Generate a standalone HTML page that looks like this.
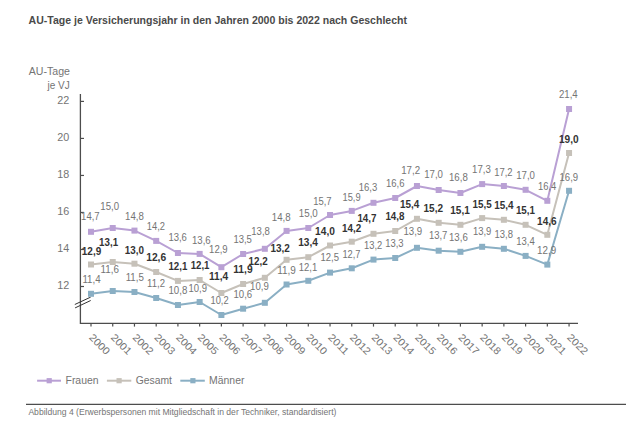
<!DOCTYPE html>
<html><head><meta charset="utf-8"><title>AU-Tage</title>
<style>html,body{margin:0;padding:0;background:#fff;width:638px;height:431px;overflow:hidden;font-family:"Liberation Sans",sans-serif;}svg{display:block;}</style>
</head><body>
<svg width="638" height="431" viewBox="0 0 638 431" font-family="Liberation Sans, sans-serif"><rect width="638" height="431" fill="#ffffff"/><text x="28.6" y="23.6" font-size="11" font-weight="bold" fill="#4a4a4a" textLength="378.4" lengthAdjust="spacingAndGlyphs">AU-Tage je Versicherungsjahr in den Jahren 2000 bis 2022 nach Geschlecht</text><text x="28.8" y="75" font-size="10" fill="#747474" textLength="41.2" lengthAdjust="spacingAndGlyphs">AU-Tage</text><text x="69.8" y="88.8" font-size="10" fill="#747474" text-anchor="end">je VJ</text><text x="57.3" y="103.80" font-size="10.2" fill="#747474" textLength="12" lengthAdjust="spacingAndGlyphs">22</text><line x1="80.4" y1="101.40" x2="84" y2="101.40" stroke="#4d4d4d" stroke-width="1.2"/><text x="57.3" y="140.82" font-size="10.2" fill="#747474" textLength="12" lengthAdjust="spacingAndGlyphs">20</text><line x1="80.4" y1="138.42" x2="84" y2="138.42" stroke="#4d4d4d" stroke-width="1.2"/><text x="57.3" y="177.84" font-size="10.2" fill="#747474" textLength="12" lengthAdjust="spacingAndGlyphs">18</text><line x1="80.4" y1="175.44" x2="84" y2="175.44" stroke="#4d4d4d" stroke-width="1.2"/><text x="57.3" y="214.86" font-size="10.2" fill="#747474" textLength="12" lengthAdjust="spacingAndGlyphs">16</text><line x1="80.4" y1="212.46" x2="84" y2="212.46" stroke="#4d4d4d" stroke-width="1.2"/><text x="57.3" y="251.88" font-size="10.2" fill="#747474" textLength="12" lengthAdjust="spacingAndGlyphs">14</text><line x1="80.4" y1="249.48" x2="84" y2="249.48" stroke="#4d4d4d" stroke-width="1.2"/><text x="57.3" y="288.90" font-size="10.2" fill="#747474" textLength="12" lengthAdjust="spacingAndGlyphs">12</text><line x1="80.4" y1="286.50" x2="84" y2="286.50" stroke="#4d4d4d" stroke-width="1.2"/><path d="M80.4 94 V323.3 H578" fill="none" stroke="#4d4d4d" stroke-width="1.3"/><line x1="91.00" y1="323.3" x2="91.00" y2="326.6" stroke="#4d4d4d" stroke-width="1.2"/><line x1="112.73" y1="323.3" x2="112.73" y2="326.6" stroke="#4d4d4d" stroke-width="1.2"/><line x1="134.46" y1="323.3" x2="134.46" y2="326.6" stroke="#4d4d4d" stroke-width="1.2"/><line x1="156.19" y1="323.3" x2="156.19" y2="326.6" stroke="#4d4d4d" stroke-width="1.2"/><line x1="177.92" y1="323.3" x2="177.92" y2="326.6" stroke="#4d4d4d" stroke-width="1.2"/><line x1="199.65" y1="323.3" x2="199.65" y2="326.6" stroke="#4d4d4d" stroke-width="1.2"/><line x1="221.38" y1="323.3" x2="221.38" y2="326.6" stroke="#4d4d4d" stroke-width="1.2"/><line x1="243.11" y1="323.3" x2="243.11" y2="326.6" stroke="#4d4d4d" stroke-width="1.2"/><line x1="264.84" y1="323.3" x2="264.84" y2="326.6" stroke="#4d4d4d" stroke-width="1.2"/><line x1="286.57" y1="323.3" x2="286.57" y2="326.6" stroke="#4d4d4d" stroke-width="1.2"/><line x1="308.30" y1="323.3" x2="308.30" y2="326.6" stroke="#4d4d4d" stroke-width="1.2"/><line x1="330.03" y1="323.3" x2="330.03" y2="326.6" stroke="#4d4d4d" stroke-width="1.2"/><line x1="351.76" y1="323.3" x2="351.76" y2="326.6" stroke="#4d4d4d" stroke-width="1.2"/><line x1="373.49" y1="323.3" x2="373.49" y2="326.6" stroke="#4d4d4d" stroke-width="1.2"/><line x1="395.22" y1="323.3" x2="395.22" y2="326.6" stroke="#4d4d4d" stroke-width="1.2"/><line x1="416.95" y1="323.3" x2="416.95" y2="326.6" stroke="#4d4d4d" stroke-width="1.2"/><line x1="438.68" y1="323.3" x2="438.68" y2="326.6" stroke="#4d4d4d" stroke-width="1.2"/><line x1="460.41" y1="323.3" x2="460.41" y2="326.6" stroke="#4d4d4d" stroke-width="1.2"/><line x1="482.14" y1="323.3" x2="482.14" y2="326.6" stroke="#4d4d4d" stroke-width="1.2"/><line x1="503.87" y1="323.3" x2="503.87" y2="326.6" stroke="#4d4d4d" stroke-width="1.2"/><line x1="525.60" y1="323.3" x2="525.60" y2="326.6" stroke="#4d4d4d" stroke-width="1.2"/><line x1="547.33" y1="323.3" x2="547.33" y2="326.6" stroke="#4d4d4d" stroke-width="1.2"/><line x1="569.06" y1="323.3" x2="569.06" y2="326.6" stroke="#4d4d4d" stroke-width="1.2"/><line x1="74.8" y1="304.5" x2="90.7" y2="297.1" stroke="#333" stroke-width="1"/><line x1="75.1" y1="307.9" x2="90.7" y2="300.5" stroke="#333" stroke-width="1"/><polyline points="91.00,264.50 112.73,262.00 134.46,263.70 156.19,272.00 177.92,280.90 199.65,280.00 221.38,293.00 243.11,284.00 264.84,277.80 286.57,259.80 308.30,257.20 330.03,245.50 351.76,241.70 373.49,233.80 395.22,231.00 416.95,218.80 438.68,222.80 460.41,224.80 482.14,218.10 503.87,219.80 525.60,224.80 547.33,234.80 569.06,153.00" fill="none" stroke="#c6c1b9" stroke-width="2" stroke-linejoin="round"/><polyline points="91.00,293.80 112.73,291.00 134.46,292.00 156.19,298.00 177.92,305.00 199.65,302.00 221.38,315.00 243.11,308.70 264.84,302.80 286.57,284.50 308.30,280.80 330.03,272.60 351.76,268.30 373.49,259.60 395.22,258.00 416.95,247.80 438.68,250.70 460.41,251.80 482.14,246.80 503.87,248.80 525.60,255.90 547.33,264.60 569.06,190.80" fill="none" stroke="#8aafc4" stroke-width="2" stroke-linejoin="round"/><polyline points="91.00,231.80 112.73,228.00 134.46,230.60 156.19,240.90 177.92,253.00 199.65,253.90 221.38,267.20 243.11,254.00 264.84,248.80 286.57,230.90 308.30,228.00 330.03,215.00 351.76,210.90 373.49,202.80 395.22,198.00 416.95,186.00 438.68,190.00 460.41,193.00 482.14,184.10 503.87,186.00 525.60,189.80 547.33,200.80 569.06,109.00" fill="none" stroke="#b9a0d4" stroke-width="2" stroke-linejoin="round"/><rect x="88.00" y="261.50" width="6" height="6" fill="#c6c1b9"/><rect x="109.73" y="259.00" width="6" height="6" fill="#c6c1b9"/><rect x="131.46" y="260.70" width="6" height="6" fill="#c6c1b9"/><rect x="153.19" y="269.00" width="6" height="6" fill="#c6c1b9"/><rect x="174.92" y="277.90" width="6" height="6" fill="#c6c1b9"/><rect x="196.65" y="277.00" width="6" height="6" fill="#c6c1b9"/><rect x="218.38" y="290.00" width="6" height="6" fill="#c6c1b9"/><rect x="240.11" y="281.00" width="6" height="6" fill="#c6c1b9"/><rect x="261.84" y="274.80" width="6" height="6" fill="#c6c1b9"/><rect x="283.57" y="256.80" width="6" height="6" fill="#c6c1b9"/><rect x="305.30" y="254.20" width="6" height="6" fill="#c6c1b9"/><rect x="327.03" y="242.50" width="6" height="6" fill="#c6c1b9"/><rect x="348.76" y="238.70" width="6" height="6" fill="#c6c1b9"/><rect x="370.49" y="230.80" width="6" height="6" fill="#c6c1b9"/><rect x="392.22" y="228.00" width="6" height="6" fill="#c6c1b9"/><rect x="413.95" y="215.80" width="6" height="6" fill="#c6c1b9"/><rect x="435.68" y="219.80" width="6" height="6" fill="#c6c1b9"/><rect x="457.41" y="221.80" width="6" height="6" fill="#c6c1b9"/><rect x="479.14" y="215.10" width="6" height="6" fill="#c6c1b9"/><rect x="500.87" y="216.80" width="6" height="6" fill="#c6c1b9"/><rect x="522.60" y="221.80" width="6" height="6" fill="#c6c1b9"/><rect x="544.33" y="231.80" width="6" height="6" fill="#c6c1b9"/><rect x="566.06" y="150.00" width="6" height="6" fill="#c6c1b9"/><rect x="88.00" y="290.80" width="6" height="6" fill="#8aafc4"/><rect x="109.73" y="288.00" width="6" height="6" fill="#8aafc4"/><rect x="131.46" y="289.00" width="6" height="6" fill="#8aafc4"/><rect x="153.19" y="295.00" width="6" height="6" fill="#8aafc4"/><rect x="174.92" y="302.00" width="6" height="6" fill="#8aafc4"/><rect x="196.65" y="299.00" width="6" height="6" fill="#8aafc4"/><rect x="218.38" y="312.00" width="6" height="6" fill="#8aafc4"/><rect x="240.11" y="305.70" width="6" height="6" fill="#8aafc4"/><rect x="261.84" y="299.80" width="6" height="6" fill="#8aafc4"/><rect x="283.57" y="281.50" width="6" height="6" fill="#8aafc4"/><rect x="305.30" y="277.80" width="6" height="6" fill="#8aafc4"/><rect x="327.03" y="269.60" width="6" height="6" fill="#8aafc4"/><rect x="348.76" y="265.30" width="6" height="6" fill="#8aafc4"/><rect x="370.49" y="256.60" width="6" height="6" fill="#8aafc4"/><rect x="392.22" y="255.00" width="6" height="6" fill="#8aafc4"/><rect x="413.95" y="244.80" width="6" height="6" fill="#8aafc4"/><rect x="435.68" y="247.70" width="6" height="6" fill="#8aafc4"/><rect x="457.41" y="248.80" width="6" height="6" fill="#8aafc4"/><rect x="479.14" y="243.80" width="6" height="6" fill="#8aafc4"/><rect x="500.87" y="245.80" width="6" height="6" fill="#8aafc4"/><rect x="522.60" y="252.90" width="6" height="6" fill="#8aafc4"/><rect x="544.33" y="261.60" width="6" height="6" fill="#8aafc4"/><rect x="566.06" y="187.80" width="6" height="6" fill="#8aafc4"/><rect x="88.00" y="228.80" width="6" height="6" fill="#b9a0d4"/><rect x="109.73" y="225.00" width="6" height="6" fill="#b9a0d4"/><rect x="131.46" y="227.60" width="6" height="6" fill="#b9a0d4"/><rect x="153.19" y="237.90" width="6" height="6" fill="#b9a0d4"/><rect x="174.92" y="250.00" width="6" height="6" fill="#b9a0d4"/><rect x="196.65" y="250.90" width="6" height="6" fill="#b9a0d4"/><rect x="218.38" y="264.20" width="6" height="6" fill="#b9a0d4"/><rect x="240.11" y="251.00" width="6" height="6" fill="#b9a0d4"/><rect x="261.84" y="245.80" width="6" height="6" fill="#b9a0d4"/><rect x="283.57" y="227.90" width="6" height="6" fill="#b9a0d4"/><rect x="305.30" y="225.00" width="6" height="6" fill="#b9a0d4"/><rect x="327.03" y="212.00" width="6" height="6" fill="#b9a0d4"/><rect x="348.76" y="207.90" width="6" height="6" fill="#b9a0d4"/><rect x="370.49" y="199.80" width="6" height="6" fill="#b9a0d4"/><rect x="392.22" y="195.00" width="6" height="6" fill="#b9a0d4"/><rect x="413.95" y="183.00" width="6" height="6" fill="#b9a0d4"/><rect x="435.68" y="187.00" width="6" height="6" fill="#b9a0d4"/><rect x="457.41" y="190.00" width="6" height="6" fill="#b9a0d4"/><rect x="479.14" y="181.10" width="6" height="6" fill="#b9a0d4"/><rect x="500.87" y="183.00" width="6" height="6" fill="#b9a0d4"/><rect x="522.60" y="186.80" width="6" height="6" fill="#b9a0d4"/><rect x="544.33" y="197.80" width="6" height="6" fill="#b9a0d4"/><rect x="566.06" y="106.00" width="6" height="6" fill="#b9a0d4"/><g font-size="9.6"><text x="81.10" y="220.20" textLength="18.50" lengthAdjust="spacingAndGlyphs" fill="#747474" font-size="10.05">14,7</text><text x="100.30" y="210.20" textLength="18.70" lengthAdjust="spacingAndGlyphs" fill="#747474" font-size="10.05">15,0</text><text x="125.10" y="220.20" textLength="18.80" lengthAdjust="spacingAndGlyphs" fill="#747474" font-size="10.05">14,8</text><text x="146.80" y="230.20" textLength="18.20" lengthAdjust="spacingAndGlyphs" fill="#747474" font-size="10.05">14,2</text><text x="168.40" y="241.40" textLength="18.50" lengthAdjust="spacingAndGlyphs" fill="#747474" font-size="10.05">13,6</text><text x="192.00" y="244.00" textLength="18.70" lengthAdjust="spacingAndGlyphs" fill="#747474" font-size="10.05">13,6</text><text x="209.10" y="253.20" textLength="18.60" lengthAdjust="spacingAndGlyphs" fill="#747474" font-size="10.05">12,9</text><text x="233.40" y="243.30" textLength="18.50" lengthAdjust="spacingAndGlyphs" fill="#747474" font-size="10.05">13,5</text><text x="251.30" y="235.20" textLength="18.60" lengthAdjust="spacingAndGlyphs" fill="#747474" font-size="10.05">13,8</text><text x="271.80" y="220.50" textLength="18.80" lengthAdjust="spacingAndGlyphs" fill="#747474" font-size="10.05">14,8</text><text x="298.80" y="217.40" textLength="19.00" lengthAdjust="spacingAndGlyphs" fill="#747474" font-size="10.05">15,0</text><text x="313.20" y="205.40" textLength="18.40" lengthAdjust="spacingAndGlyphs" fill="#747474" font-size="10.05">15,7</text><text x="342.50" y="200.50" textLength="18.10" lengthAdjust="spacingAndGlyphs" fill="#747474" font-size="10.05">15,9</text><text x="358.80" y="191.10" textLength="18.50" lengthAdjust="spacingAndGlyphs" fill="#747474" font-size="10.05">16,3</text><text x="386.00" y="187.30" textLength="18.50" lengthAdjust="spacingAndGlyphs" fill="#747474" font-size="10.05">16,6</text><text x="401.20" y="174.40" textLength="18.90" lengthAdjust="spacingAndGlyphs" fill="#747474" font-size="10.05">17,2</text><text x="424.20" y="178.30" textLength="18.80" lengthAdjust="spacingAndGlyphs" fill="#747474" font-size="10.05">17,0</text><text x="449.00" y="181.40" textLength="18.80" lengthAdjust="spacingAndGlyphs" fill="#747474" font-size="10.05">16,8</text><text x="472.10" y="173.40" textLength="18.80" lengthAdjust="spacingAndGlyphs" fill="#747474" font-size="10.05">17,3</text><text x="494.20" y="175.50" textLength="18.40" lengthAdjust="spacingAndGlyphs" fill="#747474" font-size="10.05">17,2</text><text x="516.20" y="178.50" textLength="18.80" lengthAdjust="spacingAndGlyphs" fill="#747474" font-size="10.05">17,0</text><text x="538.00" y="189.50" textLength="18.30" lengthAdjust="spacingAndGlyphs" fill="#747474" font-size="10.05">16,4</text><text x="558.90" y="98.40" textLength="18.80" lengthAdjust="spacingAndGlyphs" fill="#747474" font-size="10.05">21,4</text><text x="82.40" y="283.00" textLength="18.20" lengthAdjust="spacingAndGlyphs" fill="#747474" font-size="10.05">11,4</text><text x="100.60" y="273.00" textLength="18.40" lengthAdjust="spacingAndGlyphs" fill="#747474" font-size="10.05">11,6</text><text x="125.70" y="281.20" textLength="18.20" lengthAdjust="spacingAndGlyphs" fill="#747474" font-size="10.05">11,5</text><text x="147.10" y="287.10" textLength="17.90" lengthAdjust="spacingAndGlyphs" fill="#747474" font-size="10.05">11,2</text><text x="168.40" y="294.00" textLength="18.90" lengthAdjust="spacingAndGlyphs" fill="#747474" font-size="10.05">10,8</text><text x="188.50" y="292.40" textLength="18.50" lengthAdjust="spacingAndGlyphs" fill="#747474" font-size="10.05">10,9</text><text x="210.50" y="304.00" textLength="18.10" lengthAdjust="spacingAndGlyphs" fill="#747474" font-size="10.05">10,2</text><text x="233.50" y="297.90" textLength="18.70" lengthAdjust="spacingAndGlyphs" fill="#747474" font-size="10.05">10,6</text><text x="250.10" y="290.00" textLength="18.70" lengthAdjust="spacingAndGlyphs" fill="#747474" font-size="10.05">10,9</text><text x="277.20" y="274.30" textLength="18.70" lengthAdjust="spacingAndGlyphs" fill="#747474" font-size="10.05">11,9</text><text x="298.80" y="270.50" textLength="18.50" lengthAdjust="spacingAndGlyphs" fill="#747474" font-size="10.05">12,1</text><text x="320.50" y="261.30" textLength="18.50" lengthAdjust="spacingAndGlyphs" fill="#747474" font-size="10.05">12,5</text><text x="342.40" y="257.90" textLength="18.10" lengthAdjust="spacingAndGlyphs" fill="#747474" font-size="10.05">12,7</text><text x="364.00" y="249.20" textLength="18.20" lengthAdjust="spacingAndGlyphs" fill="#747474" font-size="10.05">13,2</text><text x="385.20" y="247.30" textLength="18.40" lengthAdjust="spacingAndGlyphs" fill="#747474" font-size="10.05">13,3</text><text x="403.40" y="235.40" textLength="18.80" lengthAdjust="spacingAndGlyphs" fill="#747474" font-size="10.05">13,9</text><text x="428.90" y="239.20" textLength="18.40" lengthAdjust="spacingAndGlyphs" fill="#747474" font-size="10.05">13,7</text><text x="449.00" y="241.10" textLength="18.80" lengthAdjust="spacingAndGlyphs" fill="#747474" font-size="10.05">13,6</text><text x="472.90" y="235.40" textLength="18.40" lengthAdjust="spacingAndGlyphs" fill="#747474" font-size="10.05">13,9</text><text x="494.60" y="237.90" textLength="18.40" lengthAdjust="spacingAndGlyphs" fill="#747474" font-size="10.05">13,8</text><text x="516.20" y="244.90" textLength="18.50" lengthAdjust="spacingAndGlyphs" fill="#747474" font-size="10.05">13,4</text><text x="537.10" y="254.10" textLength="19.10" lengthAdjust="spacingAndGlyphs" fill="#747474" font-size="10.05">12,9</text><text x="559.50" y="180.80" textLength="18.60" lengthAdjust="spacingAndGlyphs" fill="#747474" font-size="10.05">16,9</text><text x="81.80" y="255.40" textLength="19.40" lengthAdjust="spacingAndGlyphs" fill="#333333" font-weight="bold" font-size="10.5">12,9</text><text x="99.10" y="246.30" textLength="19.00" lengthAdjust="spacingAndGlyphs" fill="#333333" font-weight="bold" font-size="10.5">13,1</text><text x="124.70" y="253.80" textLength="19.20" lengthAdjust="spacingAndGlyphs" fill="#333333" font-weight="bold" font-size="10.5">13,0</text><text x="146.20" y="261.00" textLength="20.00" lengthAdjust="spacingAndGlyphs" fill="#333333" font-weight="bold" font-size="10.5">12,6</text><text x="168.40" y="270.40" textLength="18.90" lengthAdjust="spacingAndGlyphs" fill="#333333" font-weight="bold" font-size="10.5">12,1</text><text x="190.70" y="269.10" textLength="18.80" lengthAdjust="spacingAndGlyphs" fill="#333333" font-weight="bold" font-size="10.5">12,1</text><text x="208.90" y="279.60" textLength="19.30" lengthAdjust="spacingAndGlyphs" fill="#333333" font-weight="bold" font-size="10.5">11,4</text><text x="233.20" y="273.20" textLength="19.40" lengthAdjust="spacingAndGlyphs" fill="#333333" font-weight="bold" font-size="10.5">11,9</text><text x="248.50" y="264.70" textLength="19.10" lengthAdjust="spacingAndGlyphs" fill="#333333" font-weight="bold" font-size="10.5">12,2</text><text x="270.50" y="251.50" textLength="19.40" lengthAdjust="spacingAndGlyphs" fill="#333333" font-weight="bold" font-size="10.5">13,2</text><text x="298.20" y="246.40" textLength="19.70" lengthAdjust="spacingAndGlyphs" fill="#333333" font-weight="bold" font-size="10.5">13,4</text><text x="315.10" y="235.10" textLength="19.80" lengthAdjust="spacingAndGlyphs" fill="#333333" font-weight="bold" font-size="10.5">14,0</text><text x="342.10" y="232.40" textLength="19.10" lengthAdjust="spacingAndGlyphs" fill="#333333" font-weight="bold" font-size="10.5">14,2</text><text x="357.40" y="222.20" textLength="19.10" lengthAdjust="spacingAndGlyphs" fill="#333333" font-weight="bold" font-size="10.5">14,7</text><text x="385.40" y="220.10" textLength="19.10" lengthAdjust="spacingAndGlyphs" fill="#333333" font-weight="bold" font-size="10.5">14,8</text><text x="399.90" y="208.00" textLength="19.40" lengthAdjust="spacingAndGlyphs" fill="#333333" font-weight="bold" font-size="10.5">15,4</text><text x="423.50" y="211.60" textLength="19.50" lengthAdjust="spacingAndGlyphs" fill="#333333" font-weight="bold" font-size="10.5">15,2</text><text x="450.30" y="214.20" textLength="19.50" lengthAdjust="spacingAndGlyphs" fill="#333333" font-weight="bold" font-size="10.5">15,1</text><text x="472.50" y="207.50" textLength="19.10" lengthAdjust="spacingAndGlyphs" fill="#333333" font-weight="bold" font-size="10.5">15,5</text><text x="494.20" y="209.10" textLength="19.30" lengthAdjust="spacingAndGlyphs" fill="#333333" font-weight="bold" font-size="10.5">15,4</text><text x="515.90" y="214.20" textLength="19.10" lengthAdjust="spacingAndGlyphs" fill="#333333" font-weight="bold" font-size="10.5">15,1</text><text x="537.10" y="224.70" textLength="19.60" lengthAdjust="spacingAndGlyphs" fill="#333333" font-weight="bold" font-size="10.5">14,6</text><text x="558.90" y="143.00" textLength="19.70" lengthAdjust="spacingAndGlyphs" fill="#333333" font-weight="bold" font-size="10.5">19,0</text></g><text x="99.60" y="344.30" font-size="10.2" fill="#747474" text-anchor="middle" dominant-baseline="central" textLength="24.5" lengthAdjust="spacingAndGlyphs" transform="rotate(45 99.60 344.30)">2000</text><text x="121.33" y="344.30" font-size="10.2" fill="#747474" text-anchor="middle" dominant-baseline="central" textLength="24.5" lengthAdjust="spacingAndGlyphs" transform="rotate(45 121.33 344.30)">2001</text><text x="143.06" y="344.30" font-size="10.2" fill="#747474" text-anchor="middle" dominant-baseline="central" textLength="24.5" lengthAdjust="spacingAndGlyphs" transform="rotate(45 143.06 344.30)">2002</text><text x="164.79" y="344.30" font-size="10.2" fill="#747474" text-anchor="middle" dominant-baseline="central" textLength="24.5" lengthAdjust="spacingAndGlyphs" transform="rotate(45 164.79 344.30)">2003</text><text x="186.52" y="344.30" font-size="10.2" fill="#747474" text-anchor="middle" dominant-baseline="central" textLength="24.5" lengthAdjust="spacingAndGlyphs" transform="rotate(45 186.52 344.30)">2004</text><text x="208.25" y="344.30" font-size="10.2" fill="#747474" text-anchor="middle" dominant-baseline="central" textLength="24.5" lengthAdjust="spacingAndGlyphs" transform="rotate(45 208.25 344.30)">2005</text><text x="229.98" y="344.30" font-size="10.2" fill="#747474" text-anchor="middle" dominant-baseline="central" textLength="24.5" lengthAdjust="spacingAndGlyphs" transform="rotate(45 229.98 344.30)">2006</text><text x="251.71" y="344.30" font-size="10.2" fill="#747474" text-anchor="middle" dominant-baseline="central" textLength="24.5" lengthAdjust="spacingAndGlyphs" transform="rotate(45 251.71 344.30)">2007</text><text x="273.44" y="344.30" font-size="10.2" fill="#747474" text-anchor="middle" dominant-baseline="central" textLength="24.5" lengthAdjust="spacingAndGlyphs" transform="rotate(45 273.44 344.30)">2008</text><text x="295.17" y="344.30" font-size="10.2" fill="#747474" text-anchor="middle" dominant-baseline="central" textLength="24.5" lengthAdjust="spacingAndGlyphs" transform="rotate(45 295.17 344.30)">2009</text><text x="316.90" y="344.30" font-size="10.2" fill="#747474" text-anchor="middle" dominant-baseline="central" textLength="24.5" lengthAdjust="spacingAndGlyphs" transform="rotate(45 316.90 344.30)">2010</text><text x="338.63" y="344.30" font-size="10.2" fill="#747474" text-anchor="middle" dominant-baseline="central" textLength="24.5" lengthAdjust="spacingAndGlyphs" transform="rotate(45 338.63 344.30)">2011</text><text x="360.36" y="344.30" font-size="10.2" fill="#747474" text-anchor="middle" dominant-baseline="central" textLength="24.5" lengthAdjust="spacingAndGlyphs" transform="rotate(45 360.36 344.30)">2012</text><text x="382.09" y="344.30" font-size="10.2" fill="#747474" text-anchor="middle" dominant-baseline="central" textLength="24.5" lengthAdjust="spacingAndGlyphs" transform="rotate(45 382.09 344.30)">2013</text><text x="403.82" y="344.30" font-size="10.2" fill="#747474" text-anchor="middle" dominant-baseline="central" textLength="24.5" lengthAdjust="spacingAndGlyphs" transform="rotate(45 403.82 344.30)">2014</text><text x="425.55" y="344.30" font-size="10.2" fill="#747474" text-anchor="middle" dominant-baseline="central" textLength="24.5" lengthAdjust="spacingAndGlyphs" transform="rotate(45 425.55 344.30)">2015</text><text x="447.28" y="344.30" font-size="10.2" fill="#747474" text-anchor="middle" dominant-baseline="central" textLength="24.5" lengthAdjust="spacingAndGlyphs" transform="rotate(45 447.28 344.30)">2016</text><text x="469.01" y="344.30" font-size="10.2" fill="#747474" text-anchor="middle" dominant-baseline="central" textLength="24.5" lengthAdjust="spacingAndGlyphs" transform="rotate(45 469.01 344.30)">2017</text><text x="490.74" y="344.30" font-size="10.2" fill="#747474" text-anchor="middle" dominant-baseline="central" textLength="24.5" lengthAdjust="spacingAndGlyphs" transform="rotate(45 490.74 344.30)">2018</text><text x="512.47" y="344.30" font-size="10.2" fill="#747474" text-anchor="middle" dominant-baseline="central" textLength="24.5" lengthAdjust="spacingAndGlyphs" transform="rotate(45 512.47 344.30)">2019</text><text x="534.20" y="344.30" font-size="10.2" fill="#747474" text-anchor="middle" dominant-baseline="central" textLength="24.5" lengthAdjust="spacingAndGlyphs" transform="rotate(45 534.20 344.30)">2020</text><text x="555.93" y="344.30" font-size="10.2" fill="#747474" text-anchor="middle" dominant-baseline="central" textLength="24.5" lengthAdjust="spacingAndGlyphs" transform="rotate(45 555.93 344.30)">2021</text><text x="577.66" y="344.30" font-size="10.2" fill="#747474" text-anchor="middle" dominant-baseline="central" textLength="24.5" lengthAdjust="spacingAndGlyphs" transform="rotate(45 577.66 344.30)">2022</text><line x1="37.1" y1="380.7" x2="61" y2="380.7" stroke="#b9a0d4" stroke-width="2"/><rect x="46.60" y="378.1" width="5.2" height="5.2" fill="#b9a0d4"/><text x="65.5" y="383.9" font-size="10.6" fill="#747474" textLength="33.10" lengthAdjust="spacingAndGlyphs">Frauen</text><line x1="106.9" y1="380.7" x2="131.3" y2="380.7" stroke="#c6c1b9" stroke-width="2"/><rect x="116.50" y="378.1" width="5.2" height="5.2" fill="#c6c1b9"/><text x="135.7" y="383.9" font-size="10.6" fill="#747474" textLength="36.20" lengthAdjust="spacingAndGlyphs">Gesamt</text><line x1="180.3" y1="380.7" x2="204.8" y2="380.7" stroke="#8aafc4" stroke-width="2"/><rect x="190.30" y="378.1" width="5.2" height="5.2" fill="#8aafc4"/><text x="209.1" y="383.9" font-size="10.6" fill="#747474" textLength="35.30" lengthAdjust="spacingAndGlyphs">Männer</text><line x1="26" y1="404.4" x2="626" y2="404.4" stroke="#4d4d4d" stroke-width="1.2"/><text x="28.4" y="415.4" font-size="8.6" fill="#747474" textLength="308" lengthAdjust="spacingAndGlyphs">Abbildung 4 (Erwerbspersonen mit Mitgliedschaft in der Techniker, standardisiert)</text></svg>
</body></html>
